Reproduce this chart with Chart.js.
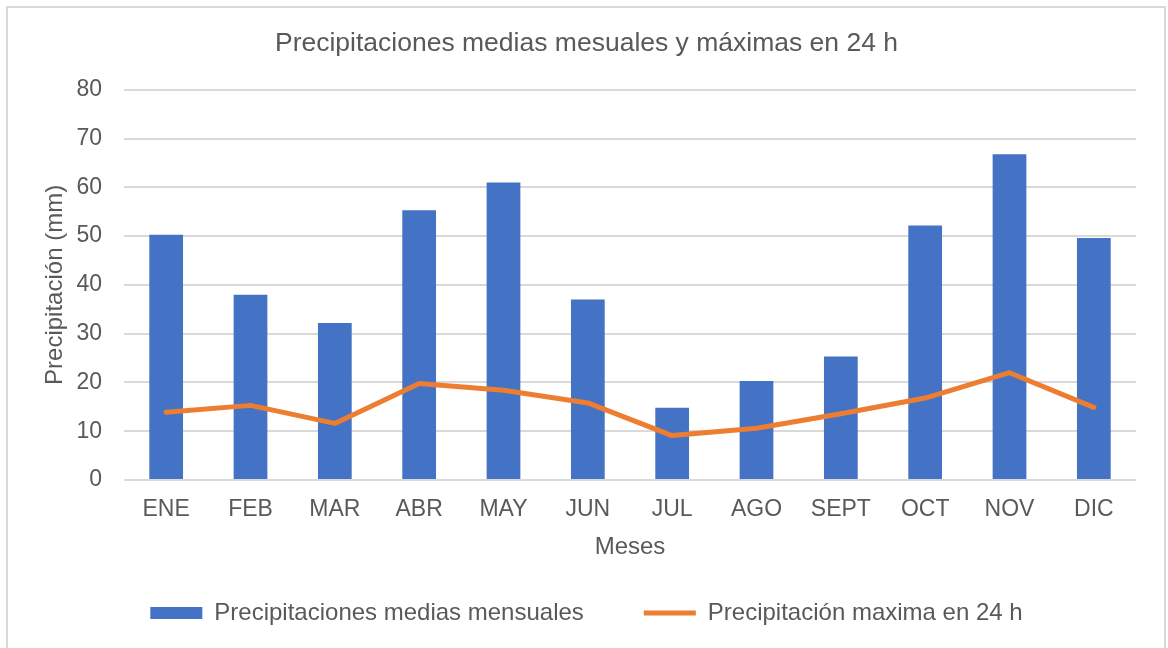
<!DOCTYPE html>
<html>
<head>
<meta charset="utf-8">
<title>Precipitaciones</title>
<script src="https://cdn.jsdelivr.net/npm/chart.js@4"></script>
<style>
    html, body { margin: 0; padding: 0; background: #fff; }
    #wrap { width: 1168px; height: 648px; }
</style>
</head>
<body>
<div id="wrap"><canvas id="chart" width="1168" height="648"></canvas></div>
<script>
const meses = ['ENE', 'FEB', 'MAR', 'ABR', 'MAY', 'JUN', 'JUL', 'AGO', 'SEPT', 'OCT', 'NOV', 'DIC'];
const mediasMensuales = [50.3, 38.0, 32.2, 55.3, 61.0, 37.0, 14.8, 20.3, 25.3, 52.2, 66.8, 49.6];
const maxima24h = [13.9, 15.3, 11.6, 19.8, 18.4, 15.8, 9.1, 10.6, 13.6, 16.8, 22.0, 14.9];

const gris = '#595959';
const fuente = "'Liberation Sans', Arial, sans-serif";

// fondo blanco y marco gris claro
const marco = {
    id: 'marco',
    beforeDraw(chart) {
        const ctx = chart.ctx;
        ctx.save();
        ctx.fillStyle = '#fff';
        ctx.fillRect(0, 0, chart.width, chart.height);
        ctx.strokeStyle = '#d9d9d9';
        ctx.lineWidth = 2;
        ctx.strokeRect(7, 7, 1158, 660);
        ctx.restore();
    }
};

document.addEventListener("DOMContentLoaded", () => {
    const ctx = document.getElementById('chart').getContext('2d');

    new Chart(ctx, {
        type: 'bar',
        data: {
            labels: meses,
            datasets: [
                {
                    label: 'Precipitaciones medias mensuales',
                    data: mediasMensuales,
                    backgroundColor: '#4472C4',
                    borderWidth: 0,
                    pointStyle: 'rect',
                    categoryPercentage: 1,
                    barPercentage: 0.4,
                    order: 1
                },
                {
                    type: 'line',
                    label: 'Precipitación maxima en 24 h',
                    data: maxima24h,
                    borderColor: '#ED7D31',
                    backgroundColor: '#ED7D31',
                    borderWidth: 5,
                    borderCapStyle: 'round',
                    borderJoinStyle: 'round',
                    pointRadius: 0,
                    pointStyle: 'line',
                    tension: 0,
                    order: 0
                }
            ]
        },
        options: {
            responsive: false,
            animation: false,
            layout: { padding: { top: 20, left: 37, right: 32, bottom: 13 } },
            plugins: {
                title: {
                    display: true,
                    text: 'Precipitaciones medias mesuales y máximas en 24 h',
                    color: gris,
                    font: { family: fuente, size: 26.5, weight: 'normal' },
                    padding: { top: 8, bottom: 30 }
                },
                legend: {
                    position: 'bottom',
                    labels: {
                        color: gris,
                        font: { family: fuente, size: 24 },
                        usePointStyle: true,
                        pointStyleWidth: 52,
                        boxHeight: 12,
                        padding: 60,
                        sort: (a, b) => a.datasetIndex - b.datasetIndex
                    }
                },
                tooltip: { enabled: false }
            },
            scales: {
                x: {
                    afterFit: scale => { scale.height = 61; },
                    grid: { display: false, drawTicks: false },
                    border: { display: false },
                    ticks: {
                        color: gris,
                        font: { family: fuente, size: 23 },
                        padding: 16
                    },
                    title: {
                        display: true,
                        text: 'Meses',
                        color: gris,
                        font: { family: fuente, size: 24 },
                        padding: { top: 0, bottom: -21 }
                    }
                },
                y: {
                    min: 0,
                    max: 80,
                    afterFit: scale => { scale.width = 87; },
                    grid: { color: '#d9d9d9', lineWidth: 2, drawTicks: false },
                    border: { display: false },
                    ticks: {
                        stepSize: 10,
                        color: gris,
                        font: { family: fuente, size: 23 },
                        padding: 22
                    },
                    title: {
                        display: true,
                        text: 'Precipitación (mm)',
                        color: gris,
                        font: { family: fuente, size: 24 },
                        padding: { top: 4, bottom: 4 }
                    }
                }
            }
        },
        plugins: [marco]
    });
});
</script>
</body>
</html>
